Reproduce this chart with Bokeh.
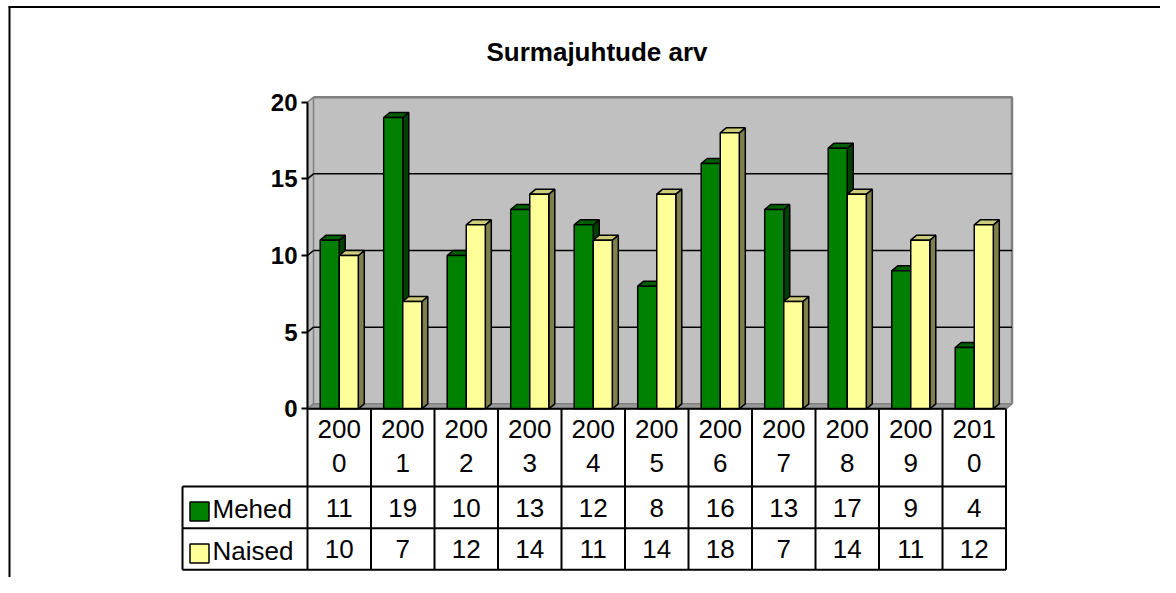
from bokeh.plotting import figure
from bokeh.models import Range1d, LinearAxis, FixedTicker
from bokeh.embed import file_html
from bokeh.resources import INLINE
from bokeh.core.properties import value

# ---------------- data ----------------
title_text = "Surmajuhtude arv"
years = ["2000", "2001", "2002", "2003", "2004", "2005", "2006", "2007", "2008", "2009", "2010"]
series_names = ["Mehed", "Naised"]
mehed = [11, 19, 10, 13, 12, 8, 16, 13, 17, 9, 4]
naised = [10, 7, 12, 14, 11, 14, 18, 7, 14, 11, 12]
y_ticks = [0, 5, 10, 15, 20]

# ---------------- layout (pixels) ----------------
W, H = 1160, 577
PX_X0 = 307.0        # x of category 0 left edge
PX_PER_CAT = 63.5
PX_Y0 = 408.3        # y of value 0
PX_PER_UNIT = 15.33


def X(px):
    return (px - PX_X0) / PX_PER_CAT


def Y(py):
    return (PX_Y0 - py) / PX_PER_UNIT


DX = 6.0 / PX_PER_CAT      # depth offset
DY = 5.0 / PX_PER_UNIT
BW = 0.3                   # bar width (category units)
N = len(years)
YMAX = y_ticks[-1]

FONT = "Liberation Sans"
GREEN, GREEN_SIDE, GREEN_TOP = "#008000", "#004000", "#006000"
YEL, YEL_SIDE, YEL_TOP = "#FFFF99", "#80804d", "#cccc7a"
WALL, WALL_EDGE, FLOOR = "#C0C0C0", "#808080", "#999999"

p = figure(width=W, height=H,
           x_range=Range1d(X(0), X(W)), y_range=Range1d(Y(H), Y(0)),
           output_backend="svg", toolbar_location=None, min_border=0,
           x_axis_location=None, y_axis_location=None)
p.outline_line_color = None
p.xgrid.grid_line_color = None
p.ygrid.grid_line_color = None
p.background_fill_color = "white"
p.border_fill_color = "white"

# outer frame (left and top)
p.segment(x0=[X(9), X(8)], y0=[Y(6), Y(6.5)], x1=[X(9), X(W + 2)], y1=[Y(H + 2), Y(6.5)],
          line_color="black", line_width=2)

# ---------------- walls ----------------
p.quad(left=[DX], right=[N + DX], bottom=[DY], top=[YMAX + DY],
       fill_color=WALL, line_color=None)
p.patch(x=[0, 0, DX, DX], y=[0, YMAX, YMAX + DY, DY], fill_color=WALL,
        line_color=WALL_EDGE, line_width=1.5)
p.patch(x=[0, N, N + DX, DX], y=[0, 0, DY, DY], fill_color=FLOOR,
        line_color=WALL_EDGE, line_width=1.5)
# wall border (top, right)
p.line(x=[DX, N + DX, N + DX], y=[YMAX + DY, YMAX + DY, DY], line_color=WALL_EDGE, line_width=2.5)
# gridlines
grid_vals = y_ticks[1:-1]
p.segment(x0=[DX] * len(grid_vals), y0=[v + DY for v in grid_vals],
          x1=[N + DX] * len(grid_vals), y1=[v + DY for v in grid_vals],
          line_color="black", line_width=1.5)
p.segment(x0=[0] * len(grid_vals), y0=grid_vals,
          x1=[DX] * len(grid_vals), y1=[v + DY for v in grid_vals],
          line_color="black", line_width=1.5)


# ---------------- bars ----------------
def draw_series(vals, offset, front, side, top):
    lefts = [i + 0.5 + offset for i in range(N)]
    rights = [l + BW for l in lefts]
    side_xs = [[r, r + DX, r + DX, r] for r in rights]
    side_ys = [[0, DY, v + DY, v] for v in vals]
    top_xs = [[l, r, r + DX, l + DX] for l, r in zip(lefts, rights)]
    top_ys = [[v, v, v + DY, v + DY] for v in vals]
    p.patches(xs=side_xs, ys=side_ys, fill_color=side, line_color="black", line_width=1.5)
    p.patches(xs=top_xs, ys=top_ys, fill_color=top, line_color="black", line_width=1.5)
    p.quad(left=lefts, right=rights, bottom=[0] * N, top=vals,
           fill_color=front, line_color="black", line_width=1.5)


draw_series(mehed, -BW, GREEN, GREEN_SIDE, GREEN_TOP)
draw_series(naised, 0.0, YEL, YEL_SIDE, YEL_TOP)

# ---------------- y axis ----------------
yax = LinearAxis(fixed_location=0, bounds=(0, YMAX), ticker=FixedTicker(ticks=y_ticks))
yax.major_label_text_font = FONT
yax.major_label_text_font_size = "24px"
yax.major_label_text_font_style = "bold"
yax.major_label_text_color = "black"
yax.major_tick_in = 0
yax.major_tick_out = 6
yax.major_tick_line_width = 2
yax.minor_tick_line_color = None
yax.axis_line_width = 2
yax.major_label_standoff = 4
p.add_layout(yax, "left")

# ---------------- data table ----------------
row_h = Y(486)            # header bottom
row_m = Y(527.7)          # Mehed bottom
row_n = Y(569.3)          # Naised bottom
leg_l = X(182)

p.segment(x0=[0], y0=[0], x1=[N], y1=[0], line_color="black", line_width=2)
p.segment(x0=list(range(N + 1)), y0=[0] * (N + 1), x1=list(range(N + 1)), y1=[row_n] * (N + 1),
          line_color="black", line_width=2)
p.segment(x0=[leg_l] * 3, y0=[row_h, row_m, row_n], x1=[N] * 3, y1=[row_h, row_m, row_n],
          line_color="black", line_width=2)
p.segment(x0=[leg_l], y0=[row_h], x1=[leg_l], y1=[row_n], line_color="black", line_width=2)

cx = [i + 0.5 for i in range(N)]
txt = dict(text_font=value(FONT), text_font_size="26px", text_color="black",
           text_align="center", text_baseline="middle")
p.text(x=cx, y=[Y(428.5)] * N, text=[y[:3] for y in years], **txt)
p.text(x=cx, y=[Y(462.5)] * N, text=[y[3:] for y in years], **txt)
p.text(x=cx, y=[Y(507)] * N, text=[str(v) for v in mehed], **txt)
p.text(x=cx, y=[Y(548.5)] * N, text=[str(v) for v in naised], **txt)

# legend keys inside table
p.quad(left=[X(189.5)] * 2, right=[X(208.5)] * 2,
       bottom=[Y(520.5), Y(562.5)], top=[Y(501.5), Y(543.5)],
       fill_color=[GREEN, YEL], line_color="black", line_width=1.5)
p.text(x=[X(212)] * 2, y=[Y(508.5), Y(550)], text=series_names,
       text_font=value(FONT), text_font_size="26px", text_color="black",
       text_align="left", text_baseline="middle")

# title
p.text(x=[X(596.5)], y=[Y(51)], text=[title_text], text_font=value(FONT),
       text_font_size="26px", text_font_style="bold", text_color="black",
       text_align="center", text_baseline="middle")

open("out.html", "w").write(file_html(p, INLINE))
